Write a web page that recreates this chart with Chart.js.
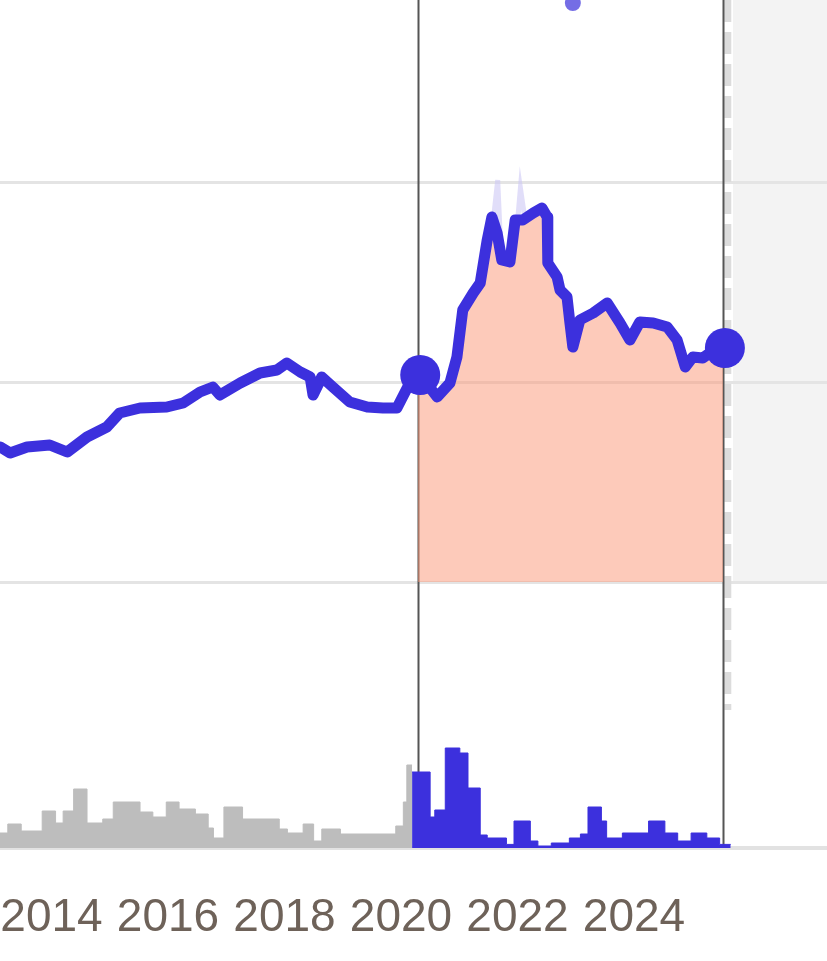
<!DOCTYPE html>
<html>
<head>
<meta charset="utf-8">
<title>Price history</title>
<script src="https://cdn.jsdelivr.net/npm/chart.js@4.4.1/dist/chart.umd.min.js"></script>
<style>
  html, body { margin: 0; padding: 0; background: #fff; overflow: hidden; }
  #chart { display: block; }
</style>
</head>
<body>
<canvas id="chart" width="827" height="961"></canvas>
<script>
// Axis ticks
const tickYears = [2014, 2016, 2018, 2020, 2022, 2024];
const gridValues = [100, 200, 300];

// Main price line
const priceYears = [2013.00, 2013.12, 2013.29, 2013.58, 2013.97, 2014.27, 2014.61, 2014.95, 2015.17, 2015.52,
  2015.98, 2016.26, 2016.55, 2016.77, 2016.89, 2017.24, 2017.58, 2017.87, 2018.04, 2018.27,
  2018.44, 2018.49, 2018.64, 2018.83, 2019.12, 2019.42, 2019.69, 2019.93, 2020.15, 2020.33,
  2020.62, 2020.84, 2020.96, 2021.06, 2021.24, 2021.36, 2021.48, 2021.56, 2021.65, 2021.73,
  2021.87, 2021.96, 2022.09, 2022.27, 2022.42, 2022.51, 2022.52, 2022.68, 2022.73, 2022.85,
  2022.90, 2022.95, 2023.07, 2023.30, 2023.54, 2023.76, 2023.93, 2024.10, 2024.33, 2024.57,
  2024.74, 2024.88, 2025.01, 2025.18, 2025.30, 2025.56];
const priceValues = [166, 167.5, 164.5, 167.5, 168.5, 165, 172.5, 177.5, 184.5, 187,
  187.5, 189.5, 195, 197.5, 193.5, 199.5, 204.5, 206, 209.5, 205,
  202.5, 193.5, 202.5, 197.5, 190, 187.5, 187, 187, 199.5, 203.5,
  192.5, 199.5, 212.5, 236, 244.5, 249.5, 271, 282.5, 274.5, 261,
  260, 281, 281, 284.5, 287, 282.5, 259.5, 252.5, 246, 242.5,
  229.5, 217.5, 231, 234.5, 239.5, 229.5, 221, 230, 229.5, 227.5,
  221, 207.5, 212.5, 212, 214.5, 217];

// Faint secondary price (spikes)
const altYears = [2021.40, 2021.50, 2021.60, 2021.66, 2021.72, 2021.90, 2022.00, 2022.05, 2022.12, 2022.30];
const altValues = [255, 272, 285, 301, 262, 262, 280, 297, 283, 285];

// Selected range, end markers, peak marker
const rangeYears = [2020.29, 2025.53];
const markerYears = [2020.33, 2025.56];
const markerValues = [203.5, 217];
const peakYears = [2022.95];
const peakValues = [389.5];

// Future area
const futureStart = 2025.70;
const futureDash = 2025.61;
const futureFloor = 100;
const dashFloor = 36;

// Histogram (each value holds until the next year)
const histYearsBefore = [2013.00, 2013.25, 2013.48, 2013.84, 2014.07, 2014.20, 2014.38, 2014.61, 2014.88, 2015.06,
  2015.52, 2015.74, 2015.97, 2016.19, 2016.47, 2016.69, 2016.78, 2016.96, 2017.28, 2017.91,
  2018.05, 2018.32, 2018.50, 2018.64, 2018.96, 2019.91, 2020.04, 2020.10, 2020.19];
const histBefore = [3.75, 6, 4.25, 9.25, 6.25, 9.25, 14.75, 6.25, 7.25, 11.5,
  9, 7.75, 11.5, 9.75, 8.5, 5, 2.5, 10.25, 7.25, 4.75,
  3.75, 6, 1.75, 4.75, 3.5, 5.5, 11.5, 20.75, 20.75];
const histYearsAfter = [2020.19, 2020.50, 2020.58, 2020.76, 2021.01, 2021.15, 2021.36, 2021.48, 2021.81, 2021.94,
  2022.22, 2022.35, 2022.58, 2022.89, 2023.08, 2023.21, 2023.44, 2023.53, 2023.80, 2024.25,
  2024.53, 2024.75, 2024.98, 2025.25, 2025.47, 2025.66];
const histAfter = [19, 7.75, 9.5, 25, 23.75, 15, 3.25, 2.5, 0.9, 6.75,
  1.75, 0.5, 1.25, 2.5, 3.5, 10.25, 6.75, 2.5, 3.75, 6.75,
  3.75, 1.75, 3.75, 2.5, 0.9, 0.9];

const blue = '#3c30dd';

function toPoints(xs, ys) {
  return xs.map((x, i) => ({ x: x, y: ys[i] }));
}

function valueAt(xs, ys, t) {
  for (let i = 1; i < xs.length; i++) {
    if (xs[i] >= t) {
      const f = (t - xs[i - 1]) / (xs[i] - xs[i - 1]);
      return ys[i - 1] + f * (ys[i] - ys[i - 1]);
    }
  }
  return ys[ys.length - 1];
}

// area under the price line inside the selected range
const fillPoints = [{ x: rangeYears[0], y: valueAt(priceYears, priceValues, rangeYears[0]) }]
  .concat(toPoints(priceYears, priceValues).filter(p => p.x > rangeYears[0] && p.x < rangeYears[1]))
  .concat([{ x: rangeYears[1], y: valueAt(priceYears, priceValues, rangeYears[1]) }]);

const overlay = {
  id: 'overlay',
  beforeDraw(chart) {
    const { ctx, chartArea, scales } = chart;
    const left = scales.x.getPixelForValue(futureStart);
    const bottom = scales.y.getPixelForValue(futureFloor);
    ctx.save();
    ctx.fillStyle = '#f3f3f3';
    ctx.fillRect(left, chartArea.top, chartArea.right - left, bottom - chartArea.top);
    ctx.restore();
  },
  beforeDatasetsDraw(chart) {
    const { ctx, chartArea, scales } = chart;
    ctx.save();
    // dashed edge of the future area
    const xd = scales.x.getPixelForValue(futureDash);
    ctx.strokeStyle = '#dcdcdc';
    ctx.lineWidth = 7;
    ctx.setLineDash([22, 10]);
    ctx.beginPath();
    ctx.moveTo(xd, chartArea.top);
    ctx.lineTo(xd, scales.y.getPixelForValue(dashFloor));
    ctx.stroke();
    // selection lines
    ctx.setLineDash([]);
    ctx.strokeStyle = '#555';
    ctx.lineWidth = 2;
    rangeYears.forEach(v => {
      const px = Math.round(scales.x.getPixelForValue(v)) + 0.5;
      ctx.beginPath();
      ctx.moveTo(px, chartArea.top);
      ctx.lineTo(px, chartArea.bottom);
      ctx.stroke();
    });
    ctx.restore();
  }
};

new Chart(document.getElementById('chart'), {
  type: 'line',
  data: {
    datasets: [
      {
        label: 'markers',
        data: toPoints(markerYears, markerValues),
        showLine: false,
        pointRadius: 20,
        pointBackgroundColor: blue,
        pointBorderWidth: 0,
        order: 0
      },
      {
        label: 'peak',
        data: toPoints(peakYears, peakValues),
        showLine: false,
        pointRadius: 8,
        pointBackgroundColor: 'rgba(70,60,220,0.75)',
        pointBorderWidth: 0,
        order: 0
      },
      {
        label: 'price',
        data: toPoints(priceYears, priceValues),
        borderColor: blue,
        borderWidth: 11,
        borderJoinStyle: 'round',
        borderCapStyle: 'round',
        pointRadius: 0,
        tension: 0,
        fill: false,
        order: 1
      },
      {
        label: 'alt',
        data: toPoints(altYears, altValues),
        borderColor: 'rgba(205,200,245,0.6)',
        borderWidth: 5,
        pointRadius: 0,
        tension: 0,
        fill: false,
        order: 2
      },
      {
        label: 'range',
        data: fillPoints,
        borderColor: 'transparent',
        borderWidth: 1,
        backgroundColor: 'rgba(251,150,118,0.5)',
        pointRadius: 0,
        tension: 0,
        fill: { value: 100 },
        order: 3
      },
      {
        label: 'history',
        yAxisID: 'y2',
        data: toPoints(histYearsBefore, histBefore),
        stepped: true,
        borderColor: '#bdbdbd',
        borderWidth: 1,
        backgroundColor: '#bdbdbd',
        pointRadius: 0,
        fill: 'origin',
        order: 4
      },
      {
        label: 'selected',
        yAxisID: 'y2',
        data: toPoints(histYearsAfter, histAfter),
        stepped: true,
        borderColor: blue,
        borderWidth: 1,
        backgroundColor: blue,
        pointRadius: 0,
        fill: 'origin',
        order: 4
      }
    ]
  },
  options: {
    responsive: false,
    animation: false,
    layout: { padding: 0, autoPadding: false },
    plugins: { legend: { display: false }, tooltip: { enabled: false } },
    scales: {
      x: {
        type: 'linear',
        min: 2013.116,
        max: 2027.313,
        afterBuildTicks: s => { s.ticks = tickYears.map(v => ({ value: v })); },
        afterFit: s => { s.height = 113; s.paddingLeft = 0; s.paddingRight = 0; },
        grid: { display: false },
        border: { display: true, color: '#e2e2e2', width: 4 },
        ticks: {
          autoSkip: false,
          maxRotation: 0,
          padding: 35,
          color: '#6e6259',
          font: { family: 'Liberation Sans', size: 46 },
          callback: v => String(v)
        }
      },
      y: {
        min: -33,
        max: 391,
        afterBuildTicks: s => { s.ticks = gridValues.map(v => ({ value: v })); },
        afterFit: s => { s.width = 0; s.paddingTop = 0; s.paddingBottom = 0; },
        ticks: { display: false },
        grid: { color: '#e4e4e4', lineWidth: 3, drawTicks: false },
        border: { display: false }
      },
      y2: { display: false, min: 0, max: 212 }
    }
  },
  plugins: [overlay]
});
</script>
</body>
</html>
